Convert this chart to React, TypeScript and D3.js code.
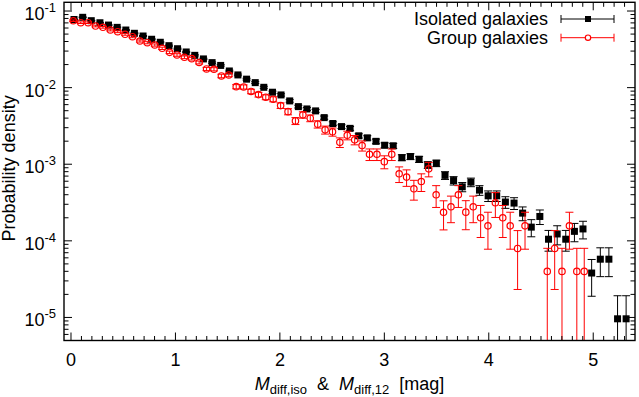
import React from "react";
import * as d3 from "d3";

// ---- data ----
const xTickValues = [0, 1, 2, 3, 4, 5];
const yTickValues = [1e-5, 1e-4, 1e-3, 1e-2, 1e-1];
const yTickExponents = ["-5", "-4", "-3", "-2", "-1"];

const isoX = [0.029,0.112,0.194,0.277,0.359,0.442,0.525,0.607,0.690,0.772,0.855,0.938,1.020,1.103,1.185,1.268,1.351,1.433,1.516,1.598,1.681,1.764,1.846,1.929,2.011,2.094,2.177,2.259,2.342,2.424,2.507,2.590,2.672,2.755,2.837,2.920,3.003,3.085,3.168,3.250,3.333,3.416,3.498,3.581,3.663,3.746,3.829,3.911,3.994,4.076,4.159,4.242,4.324,4.407,4.489,4.572,4.655,4.737,4.820,4.902,4.985,5.068,5.150,5.233,5.315];
const isoY = [0.0775,0.0828,0.0748,0.0703,0.0656,0.0612,0.0565,0.0512,0.0472,0.0428,
  0.0391,0.0353,0.0322,0.0292,0.0264,0.0237,0.0212,0.0195,0.0165,0.01465,
  0.0129,0.01162,0.0101,0.00871,0.00803,0.00671,0.00565,0.00527,0.00497,0.00406,
  0.00340,0.00310,0.00294,0.00235,0.00221,0.00199,0.00177,0.00174,0.00122,0.00126,
  0.00116,0.00098,0.00103,0.000716,0.000612,0.000507,0.000584,0.000459,0.000387,0.000387,
  0.000321,0.000311,0.000230,0.000151,0.000208,0.000105,0.000123,0.000105,0.000133,0.000143,
  0.0000380,0.0000576,0.0000576,0.0000096,0.0000096];

const grpX = [0.022,0.093,0.164,0.235,0.306,0.377,0.447,0.518,0.589,0.660,0.731,0.802,0.873,0.944,1.015,1.086,1.156,1.227,1.298,1.369,1.440,1.511,1.582,1.653,1.724,1.795,1.865,1.936,2.007,2.078,2.149,2.220,2.291,2.362,2.433,2.504,2.574,2.645,2.716,2.787,2.858,2.929,3.000,3.071,3.142,3.213,3.283,3.354,3.425,3.496,3.567,3.638,3.709,3.780,3.851,3.922,3.992,4.063,4.134,4.205,4.276,4.347,4.560,4.631,4.701,4.772,4.843,4.914];
const grpY = [0.0747,0.0704,0.0704,0.0637,0.0613,0.0565,0.0537,0.0497,0.0462,0.0406,
  0.0386,0.0360,0.0326,0.0289,0.0267,0.0249,0.0239,0.0213,0.01753,0.01738,
  0.01421,0.01464,0.01030,0.01021,0.00892,0.00811,0.00750,0.00706,0.00583,0.00486,
  0.00368,0.00441,0.00399,0.00333,0.00281,0.00265,0.00193,0.00239,0.00208,0.00175,
  0.00135,0.00135,0.00108,0.00135,0.000750,0.000679,0.000478,0.000595,0.000871,0.000399,
  0.000236,0.000278,0.000399,0.000237,0.000278,0.000200,0.000157,0.000314,0.000200,0.000157,
  0.0000796,0.000157,
  0.0000399,0.0000796,0.0000399,0.000157,0.0000399,0.0000399];

// density corresponding to a single galaxy in a bin (Poisson counting errors)
const isoUnit = 9.6e-6;
const grpUnit = 4.0e-5;

const FONT = "'Liberation Sans', Arial, Helvetica, sans-serif";

export default function App() {
  const W = 639, H = 397;
  const L = 64, R = 635, T = 2.3, B = 340.5;
  const x = d3.scaleLinear().domain([-0.067, 5.4]).range([L, R]);
  const yDomain: [number, number] = [5e-6, 0.13];
  const y = d3.scaleLog().domain(yDomain).range([B, T]);

  const xMinor = d3.range(1, 54).map((i) => i / 10).filter((v) => Math.abs(v - Math.round(v)) > 1e-6);
  const yMinor: number[] = [];
  for (let e = -6; e <= -1; e++) for (let k = 2; k <= 9; k++) {
    const v = k * Math.pow(10, e);
    if (v > yDomain[0] && v < yDomain[1]) yMinor.push(v);
  }

  const errBars = (xs: number[], ys: number[], unit: number, color: string) =>
    xs.map((xv, i) => {
      const v = ys[i];
      const e = Math.sqrt(v * unit);
      const lo = v - e;
      const px = x(xv);
      const yHi = y(v + e);
      const lowInRange = lo > yDomain[0] * 1.0001;
      const yLo = lowInRange ? y(lo) : B + 5;
      return (
        <g key={i} stroke={color} strokeWidth={1}>
          <line x1={px} x2={px} y1={yLo} y2={yHi} />
          <line x1={px - 4} x2={px + 4} y1={yHi} y2={yHi} />
          {lowInRange && <line x1={px - 4} x2={px + 4} y1={yLo} y2={yLo} />}
        </g>
      );
    });

  const majorLen = 8, minorLen = 4.5;

  return (
    <svg width={W} height={H} style={{ position: "absolute", left: 0, top: 0, background: "#fff" }} fontFamily={FONT}>
      <defs>
        <clipPath id="plotClip">
          <rect x={L} y={T} width={R - L} height={B - T} />
        </clipPath>
      </defs>
      <rect x={0} y={0} width={W} height={H} fill="#fff" />

      {/* data */}
      <g clipPath="url(#plotClip)">
        {errBars(isoX, isoY, isoUnit, "#000")}
        {isoX.map((xv, i) => (
          <rect key={"s" + i} x={x(xv) - 3.5} y={y(isoY[i]) - 3.5} width={7} height={7} fill="#000" />
        ))}
        {errBars(grpX, grpY, grpUnit, "#ff0000")}
        {grpX.map((xv, i) => (
          <circle key={"c" + i} cx={x(xv)} cy={y(grpY[i])} r={3.2} fill="none" stroke="#ff0000" strokeWidth={1.2} />
        ))}
      </g>

      {/* ticks */}
      <g stroke="#000" strokeWidth={1}>
        {xTickValues.map((v) => (
          <g key={"xt" + v}>
            <line x1={x(v)} x2={x(v)} y1={B} y2={B - majorLen} />
            <line x1={x(v)} x2={x(v)} y1={T} y2={T + majorLen} />
          </g>
        ))}
        {xMinor.map((v) => (
          <g key={"xm" + v}>
            <line x1={x(v)} x2={x(v)} y1={B} y2={B - minorLen} />
            <line x1={x(v)} x2={x(v)} y1={T} y2={T + minorLen} />
          </g>
        ))}
        {yTickValues.map((v) => (
          <g key={"yt" + v}>
            <line x1={L} x2={L + majorLen} y1={y(v)} y2={y(v)} />
            <line x1={R} x2={R - majorLen} y1={y(v)} y2={y(v)} />
          </g>
        ))}
        {yMinor.map((v) => (
          <g key={"ym" + v}>
            <line x1={L} x2={L + minorLen} y1={y(v)} y2={y(v)} />
            <line x1={R} x2={R - minorLen} y1={y(v)} y2={y(v)} />
          </g>
        ))}
      </g>

      {/* frame */}
      <rect x={L} y={T} width={R - L} height={B - T} fill="none" stroke="#000" strokeWidth={1.4} />

      {/* tick labels */}
      <g fontSize={18} fill="#000">
        {xTickValues.map((v) => (
          <text key={"xl" + v} x={x(v)} y={366} textAnchor="middle">{v}</text>
        ))}
        {yTickValues.map((v, i) => (
          <text key={"yl" + v} x={56} y={y(v) + 9} textAnchor="end">
            10<tspan fontSize={13} dy={-8}>{yTickExponents[i]}</tspan>
          </text>
        ))}
      </g>

      {/* axis titles */}
      <text x={(L + R) / 2} y={390} textAnchor="middle" fontSize={18} fill="#000" xmlSpace="preserve">
        <tspan fontStyle="italic">M</tspan>
        <tspan fontSize={13} dy={4}>diff,iso</tspan>
        <tspan dy={-4}>{"  &  "}</tspan>
        <tspan fontStyle="italic">M</tspan>
        <tspan fontSize={13} dy={4}>diff,12</tspan>
        <tspan dy={-4}>{"  [mag]"}</tspan>
      </text>
      <text transform={`translate(15,${(T + B) / 2 - 3}) rotate(-90)`} textAnchor="middle" fontSize={18} fill="#000">
        Probability density
      </text>

      {/* legend */}
      <g fontSize={18} fill="#000">
        <text x={548} y={25} textAnchor="end">Isolated galaxies</text>
        <text x={548} y={43.5} textAnchor="end">Group galaxies</text>
      </g>
      <g stroke="#000" strokeWidth={1}>
        <line x1={561} x2={614} y1={19} y2={19} />
        <line x1={561} x2={561} y1={15} y2={23} />
        <line x1={614} x2={614} y1={15} y2={23} />
      </g>
      <rect x={588 - 3} y={19 - 3} width={6} height={6} fill="#000" />
      <g stroke="#ff0000" strokeWidth={1}>
        <line x1={561} x2={614} y1={37.7} y2={37.7} />
        <line x1={561} x2={561} y1={33.7} y2={41.7} />
        <line x1={614} x2={614} y1={33.7} y2={41.7} />
      </g>
      <circle cx={588} cy={37.7} r={2.7} fill="#fff" stroke="#ff0000" strokeWidth={1.2} />
    </svg>
  );
}
